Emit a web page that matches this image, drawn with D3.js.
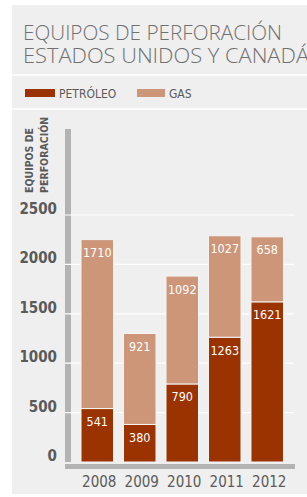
<!DOCTYPE html>
<html>
<head>
<meta charset="utf-8">
<script src="https://cdn.jsdelivr.net/npm/d3@7"></script>
<style>
  body { margin: 0; background: #fff; }
  svg { display: block; }
</style>
</head>
<body>
<div id="chart"></div>
<script>
// datos
const years = ["2008", "2009", "2010", "2011", "2012"];
const petroleo = [541, 380, 790, 1263, 1621];
const gas = [1710, 921, 1092, 1027, 658];
const yTicks = [0, 500, 1000, 1500, 2000, 2500];

const W = 307, H = 497;
const FONT = "'DejaVu Sans Condensed', 'DejaVu Sans', sans-serif";
const C_PET = "#9a3300";
const C_GAS = "#cd9679";
const TXT = "#5a5a5a";

const svg = d3.select("#chart").append("svg")
  .attr("width", W).attr("height", H);

// panel de fondo
svg.append("rect")
  .attr("x", 12).attr("y", 5)
  .attr("width", W - 12).attr("height", 489)
  .attr("fill", "#efefef");

// titulo (dos lineas)
const titleLines = [
  {text: "EQUIPOS DE PERFORACIÓN", y: 40, len: 259},
  {text: "ESTADOS UNIDOS Y CANADÁ", y: 63, len: 286}
];
svg.append("g").selectAll("text")
  .data(titleLines)
  .enter().append("text")
  .attr("x", 23).attr("y", d => d.y)
  .attr("textLength", d => d.len)
  .attr("lengthAdjust", "spacingAndGlyphs")
  .attr("font-family", "'Open Sans', sans-serif")
  .attr("font-size", 20)
  .attr("font-weight", 300)
  .attr("fill", "#707070")
  .text(d => d.text);

// separadores
[75, 109].forEach(yy => {
  svg.append("line")
    .attr("x1", 12).attr("x2", W)
    .attr("y1", yy).attr("y2", yy)
    .attr("stroke", "#fff").attr("stroke-width", 1.5);
});

// leyenda
const legend = [
  {name: "PETRÓLEO", color: C_PET, x: 25, w: 30},
  {name: "GAS", color: C_GAS, x: 137, w: 28}
];
const lg = svg.append("g").selectAll("g").data(legend).enter().append("g");
lg.append("rect")
  .attr("x", d => d.x).attr("y", 89)
  .attr("width", d => d.w).attr("height", 8)
  .attr("fill", d => d.color);
lg.append("text")
  .attr("x", d => d.x + d.w + 4).attr("y", 98)
  .attr("font-family", FONT).attr("font-size", 12)
  .attr("fill", TXT)
  .text(d => d.name);

// escalas
const x = d3.scaleBand()
  .domain(years)
  .range([76, 288.5])
  .paddingInner(0.235)
  .paddingOuter(0.118);

const y = d3.scaleLinear()
  .domain([0, 2500])
  .range([462, 215]);

// eje y (barra gris)
svg.append("rect")
  .attr("x", 65).attr("y", 129)
  .attr("width", 6).attr("height", y(0) - 129)
  .attr("fill", "#b3b3b3");

// titulo eje y
const yt = svg.append("text")
  .attr("transform", "translate(33,193) rotate(-90)")
  .attr("text-anchor", "start")
  .attr("font-family", FONT).attr("font-size", 10.5)
  .attr("font-weight", "bold")
  .attr("fill", TXT);
yt.append("tspan").attr("x", 0).attr("y", 0).text("EQUIPOS DE");
yt.append("tspan").attr("x", 0).attr("y", 14.5).text("PERFORACIÓN");

// lineas de cuadricula
svg.append("g").selectAll("line")
  .data(yTicks.filter(d => d > 0))
  .enter().append("line")
  .attr("x1", 65).attr("x2", 294)
  .attr("y1", d => y(d)).attr("y2", d => y(d))
  .attr("stroke", "#fff").attr("stroke-width", 1.2);

// etiquetas eje y
svg.append("g").selectAll("text")
  .data(yTicks)
  .enter().append("text")
  .attr("x", 57).attr("y", d => y(d) - 1)
  .attr("text-anchor", "end")
  .attr("font-family", FONT).attr("font-size", 15)
  .attr("font-weight", "bold")
  .attr("fill", TXT)
  .text(d => d);

// barras apiladas
const rows = years.map((yr, i) => ({year: yr, petroleo: petroleo[i], gas: gas[i]}));
const stack = d3.stack().keys(["petroleo", "gas"])(rows);
const colors = {petroleo: C_PET, gas: C_GAS};

const layers = svg.append("g").selectAll("g")
  .data(stack).enter().append("g")
  .attr("fill", d => colors[d.key]);

layers.selectAll("rect")
  .data(d => d)
  .enter().append("rect")
  .attr("x", d => x(d.data.year))
  .attr("y", d => y(d[1]))
  .attr("width", x.bandwidth())
  .attr("height", d => y(d[0]) - y(d[1]))
  .attr("stroke", "#f4f4f4")
  .attr("stroke-width", 1);

layers.selectAll("text")
  .data(d => d.map(p => ({p, key: d.key})))
  .enter().append("text")
  .attr("x", d => x(d.p.data.year) + x.bandwidth() / 2)
  .attr("y", d => y(d.p[1]) + 17.5)
  .attr("text-anchor", "middle")
  .attr("font-family", FONT).attr("font-size", 12.5)
  .attr("fill", "#fff")
  .text(d => d.p.data[d.key]);

// eje x (barra gris)
svg.append("rect")
  .attr("x", 65).attr("y", 464)
  .attr("width", 230).attr("height", 5)
  .attr("fill", "#b3b3b3");

svg.append("g").selectAll("text")
  .data(years)
  .enter().append("text")
  .attr("x", d => x(d) + x.bandwidth() / 2 + 2)
  .attr("y", 487)
  .attr("text-anchor", "middle")
  .attr("font-family", FONT).attr("font-size", 15)
  .attr("fill", TXT)
  .text(d => d);
</script>
</body>
</html>
